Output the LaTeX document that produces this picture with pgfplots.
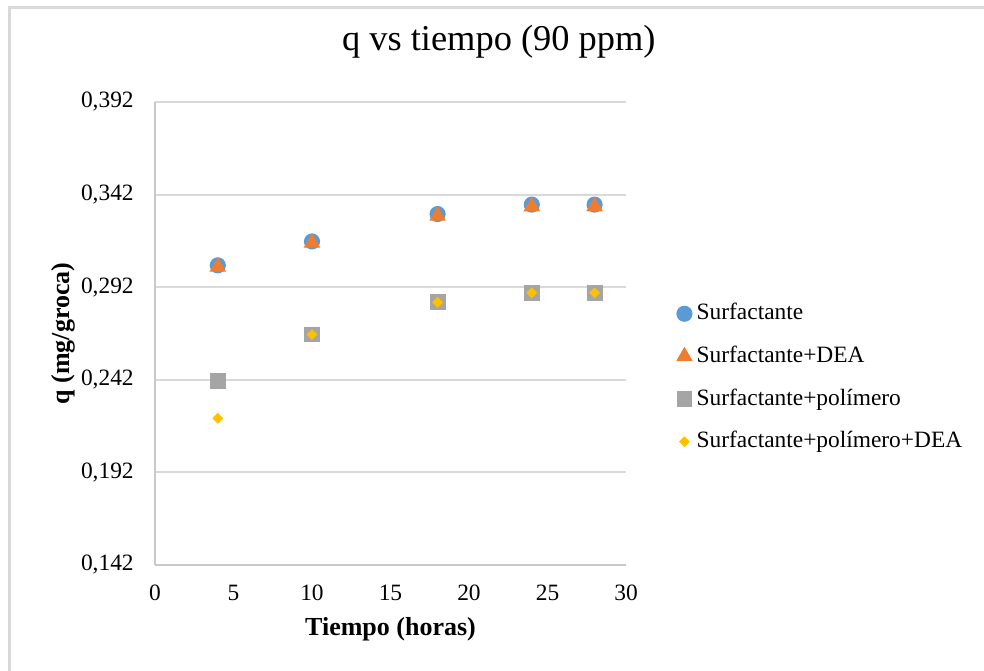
\documentclass[border=0pt]{standalone}
\usepackage{fontspec}
\setmainfont{Liberation Serif}
\usepackage{pgfplots}
\pgfplotsset{compat=1.18}

\definecolor{sblue}{HTML}{5B9BD5}
\definecolor{sorange}{HTML}{ED7D31}
\definecolor{sgray}{HTML}{A5A5A5}
\definecolor{sgold}{HTML}{FFC000}
\definecolor{gridgray}{HTML}{D9D9D9}
\definecolor{axisgray}{HTML}{C8C8C8}

\begin{document}
\begin{tikzpicture}[x=0.3846pt,y=0.3846pt]
\useasboundingbox (0,0) rectangle (984,670);
% chart area frame
\draw[gridgray, line width=0.8pt] (9.5,-20) -- (9.5,662.5) -- (1000,662.5);
\begin{axis}[
  at={(59.61pt,40.38pt)}, anchor=south west,
  scale only axis, width=181.15pt, height=178.07pt,
  xmin=0, xmax=30, ymin=0.142, ymax=0.392,
  xtick={0,5,...,30},
  ytick={0.142,0.192,0.242,0.292,0.342,0.392},
  yticklabels={{0,142},{0,192},{0,242},{0,292},{0,342},{0,392}},
  axis x line*=bottom, axis y line*=left,
  axis line style={axisgray, line width=0.8pt, -},
  major tick length=0pt,
  ymajorgrids, major grid style={gridgray, line width=0.8pt},
  /pgf/number format/assume math mode=true,
  tick label style={font=\fontsize{9}{10.8}\selectfont, inner sep=0pt},
  xticklabel shift=7.5pt, yticklabel shift=8pt,
  title={q vs tiempo (90 ppm)},
  title style={font=\fontsize{14}{16.8}\selectfont, at={(axis description cs:0.73,1.097)}, anchor=center, inner sep=0pt},
  xlabel={Tiempo (horas)},
  xlabel style={font=\bfseries\fontsize{10}{12}\selectfont, at={(axis description cs:0.5,-0.138)}, anchor=center, inner sep=0pt},
  ylabel={q (mg/groca)},
  ylabel style={font=\bfseries\fontsize{10}{12}\selectfont, at={(axis description cs:-0.195,0.5)}, anchor=center, inner sep=0pt},
  legend style={draw=none, fill=none, inner sep=0pt,
    at={(axis description cs:1.107,0.4045)}, anchor=west,
    font=\fontsize{9}{10.8}\selectfont, row sep=7.4pt,
    nodes={inner sep=0pt, inner xsep=1.8pt, text height=6.8pt, text depth=2.2pt}},
  legend cell align=left,
  legend image code/.code={\draw[mark repeat=2,mark phase=2,#1] plot coordinates {(0pt,0pt) (3pt,0pt) (6pt,0pt)};},
]
\addplot[only marks, mark=*, mark size=2.9pt, draw=sblue, fill=sblue]
  coordinates {(4,0.3038) (10,0.3167) (18,0.3315) (24,0.3366) (28,0.3366)};
\addlegendentry{Surfactante}
\addplot[only marks, mark=triangle*, mark size=3.3pt, draw=sorange, fill=sorange]
  coordinates {(4,0.3030) (10,0.3160) (18,0.3305) (24,0.3356) (28,0.3356)};
\addlegendentry{Surfactante+DEA}
\addplot[only marks, mark=square*, mark size=2.85pt, draw=sgray, fill=sgray]
  coordinates {(4,0.2413) (10,0.2665) (18,0.2838) (24,0.2890) (28,0.2890)};
\addlegendentry{Surfactante+polímero}
\addplot[only marks, mark=square*, mark size=1.27pt, mark options={rotate=45}, draw=sgold, fill=sgold]
  coordinates {(4,0.2212) (10,0.2665) (18,0.2838) (24,0.2890) (28,0.2890)};
\addlegendentry{Surfactante+polímero+DEA}
\end{axis}
\end{tikzpicture}
\end{document}
